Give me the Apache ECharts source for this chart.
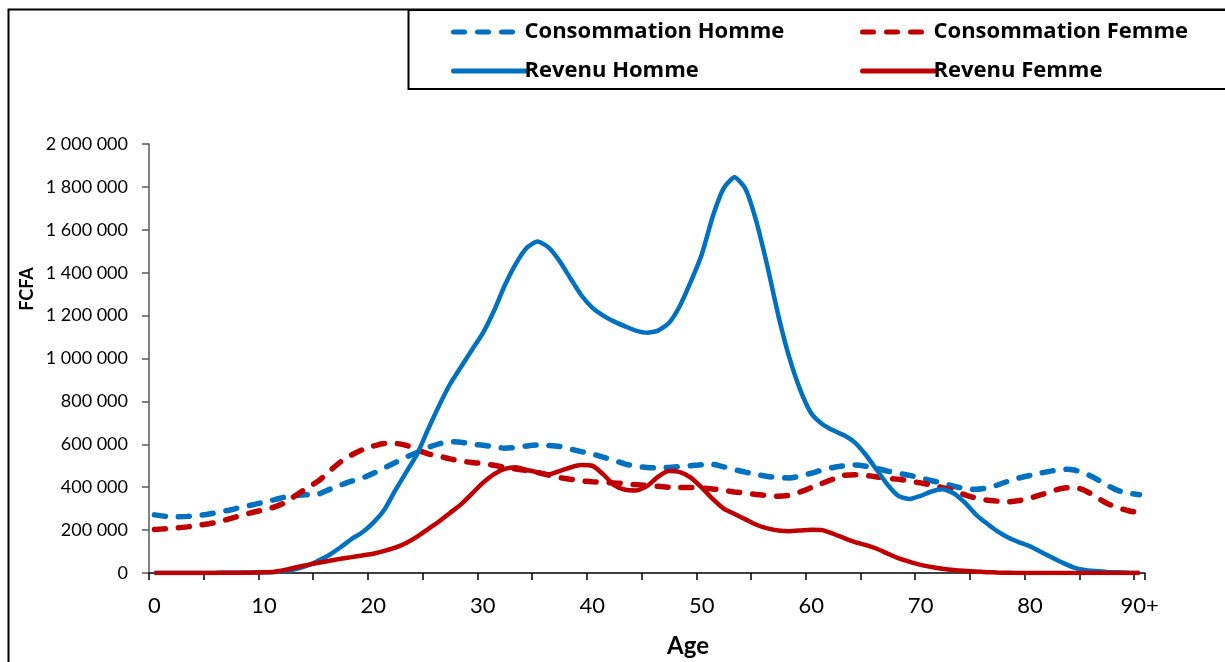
<!DOCTYPE html>
<html>
<head>
<meta charset="utf-8">
<script src="https://cdn.jsdelivr.net/npm/echarts@6/dist/echarts.min.js"></script>
<style>
html,body{margin:0;padding:0;background:#fff;}
#chart{width:1225px;height:662px;}
</style>
</head>
<body>
<div id="chart"></div>
<script>
// Ages 0..89 and "90+"
const ages = [
 '0','1','2','3','4','5','6','7','8','9',
 '10','11','12','13','14','15','16','17','18','19',
 '20','21','22','23','24','25','26','27','28','29',
 '30','31','32','33','34','35','36','37','38','39',
 '40','41','42','43','44','45','46','47','48','49',
 '50','51','52','53','54','55','56','57','58','59',
 '60','61','62','63','64','65','66','67','68','69',
 '70','71','72','73','74','75','76','77','78','79',
 '80','81','82','83','84','85','86','87','88','89',
 '90+'
];

const consommationHomme = [
 271000,264000,262000,264000,268000,275000,285000,295000,308000,318000,
 330000,342000,355000,362000,365000,368000,390000,410000,428000,443000,
 465000,490000,515000,540000,562000,585000,602000,613000,610000,600000,
 596000,588000,582000,585000,592000,597000,595000,590000,578000,566000,
 555000,540000,525000,508000,498000,492000,490000,492000,496000,500000,
 505000,506000,495000,482000,470000,460000,450000,445000,443000,452000,
 465000,480000,492000,500000,504000,498000,488000,475000,465000,455000,
 443000,430000,419000,405000,393000,390000,396000,410000,428000,443000,
 455000,466000,476000,484000,480000,465000,440000,410000,385000,372000,
 365000
];

const consommationFemme = [
 203000,206000,210000,215000,222000,230000,240000,255000,270000,283000,
 295000,308000,330000,365000,398000,430000,475000,518000,550000,575000,
 592000,604000,604000,595000,575000,555000,545000,532000,522000,515000,
 510000,502000,493000,485000,478000,468000,456000,445000,437000,430000,
 425000,422000,420000,416000,412000,408000,404000,400000,399000,399000,
 396000,392000,385000,378000,372000,366000,361000,358000,362000,378000,
 398000,418000,438000,455000,458000,455000,448000,442000,437000,428000,
 420000,410000,398000,385000,365000,350000,340000,335000,332000,338000,
 349000,365000,382000,395000,400000,385000,355000,325000,305000,290000,
 280000
];

const revenuHomme = [
 0,0,0,0,0,0,1000,1000,2000,2000,
 3000,5000,10000,20000,35000,58000,85000,120000,158000,190000,
 235000,295000,385000,470000,555000,670000,780000,880000,960000,1040000,
 1118000,1220000,1340000,1440000,1515000,1545000,1518000,1455000,1374000,1295000,
 1237000,1200000,1172000,1150000,1130000,1120000,1130000,1165000,1245000,1358000,
 1485000,1661000,1793000,1845000,1790000,1637000,1430000,1200000,1005000,854000,
 745000,695000,665000,642000,608000,550000,480000,410000,358000,345000,
 360000,380000,390000,372000,330000,275000,233000,195000,165000,143000,
 124000,98000,72000,47000,25000,14000,9000,5000,3000,1000,
 0
];

const revenuFemme = [
 0,0,0,0,0,0,1000,1000,1000,2000,
 3000,6000,15000,27000,38000,48000,57000,66000,74000,82000,
 90000,103000,118000,140000,170000,205000,240000,280000,320000,370000,
 420000,460000,485000,493000,480000,470000,460000,475000,492000,503000,
 500000,460000,410000,388000,385000,405000,448000,475000,470000,445000,
 398000,345000,300000,275000,250000,225000,208000,198000,195000,198000,
 202000,200000,183000,163000,144000,130000,113000,90000,68000,52000,
 38000,28000,20000,14000,10000,7000,4000,2000,1000,0,
 0,0,0,0,0,0,0,0,0,0,
 0
];

const seriesNames = ['Consommation Homme','Consommation Femme','Revenu Homme','Revenu Femme'];
const yTicks = { min: 0, max: 2000000, interval: 200000 };

const BLUE = '#0070C0';
const RED = '#C00000';
const FONT = 'Lato, "Open Sans", sans-serif';
const LEGEND_FONT = '"Open Sans", Lato, sans-serif';

function fmt(v){
  return String(v).replace(/\B(?=(\d{3})+(?!\d))/g, ' ');
}

const chart = echarts.init(document.getElementById('chart'), null, {renderer:'canvas'});

const dashed = [11, 13];

const legendBase = {
  orient: 'vertical',
  top: 16,
  itemWidth: 72, itemHeight: 14, itemGap: 17,
  lineStyle: { width: 5, cap: 'round' },
  itemStyle: { opacity: 0, borderWidth: 0 },
  textStyle: { fontFamily: LEGEND_FONT, fontWeight: 'bold', fontSize: 22, color: '#000', padding:[0,0,0,-6] }
};

chart.setOption({
  animation: false,
  backgroundColor: '#ffffff',
  grid: { left: 149, right: 80, top: 144, bottom: 89, containLabel: false },
  legend: [
    Object.assign({}, legendBase, { data: [seriesNames[0], seriesNames[2]], left: 446 }),
    Object.assign({}, legendBase, { data: [seriesNames[1], seriesNames[3]], left: 855 })
  ],
  xAxis: {
    type: 'category',
    data: ages,
    boundaryGap: true,
    axisLine: { lineStyle: { color: '#000', width: 1.5 } },
    axisTick: { show: true, interval: 4, length: 7, lineStyle: { color: '#000', width: 1.5 } },
    axisLabel: { interval: 9, fontFamily: FONT, fontSize: 22, color: '#000', margin: 22 },
    splitLine: { show: false }
  },
  yAxis: {
    type: 'value',
    min: yTicks.min, max: yTicks.max, interval: yTicks.interval,
    axisLine: { show: true, lineStyle: { color: '#595959', width: 1.5 } },
    axisTick: { show: true, length: 7, lineStyle: { color: '#595959', width: 1.5 } },
    axisLabel: { fontFamily: FONT, fontSize: 18, color: '#000', margin: 21, formatter: fmt },
    splitLine: { show: false }
  },
  graphic: [
    { type: 'rect', silent: true, z: -1, shape: { x: 8.5, y: 9.5, width: 1240, height: 680 },
      style: { fill: 'none', stroke: '#000', lineWidth: 2 } },
    { type: 'rect', silent: true, shape: { x: 408.5, y: 10, width: 840, height: 79 },
      style: { fill: 'none', stroke: '#000', lineWidth: 2 } },
    { type: 'text', x: 27, y: 289, rotation: Math.PI/2,
      style: { text: 'FCFA', fontFamily: FONT, fontWeight: 'bold', fontSize: 18, fill: '#000',
               align: 'center', verticalAlign: 'middle' } },
    { type: 'text', x: 688, y: 646,
      style: { text: 'Age', fontFamily: FONT, fontWeight: 'bold', fontSize: 24, fill: '#000',
               align: 'center', verticalAlign: 'middle' } }
  ],
  series: [
    { name: seriesNames[0], type: 'line', data: consommationHomme, symbol: 'none', smooth: 0.2,
      color: BLUE, lineStyle: { color: BLUE, width: 5.5, type: dashed, cap: 'round' } },
    { name: seriesNames[1], type: 'line', data: consommationFemme, symbol: 'none', smooth: 0.2,
      color: RED, lineStyle: { color: RED, width: 5.5, type: dashed, cap: 'round' } },
    { name: seriesNames[2], type: 'line', data: revenuHomme, symbol: 'none', smooth: 0.2,
      color: BLUE, lineStyle: { color: BLUE, width: 4.5 } },
    { name: seriesNames[3], type: 'line', data: revenuFemme, symbol: 'none', smooth: 0.2,
      color: RED, lineStyle: { color: RED, width: 4.5 } }
  ]
});
</script>
</body>
</html>
